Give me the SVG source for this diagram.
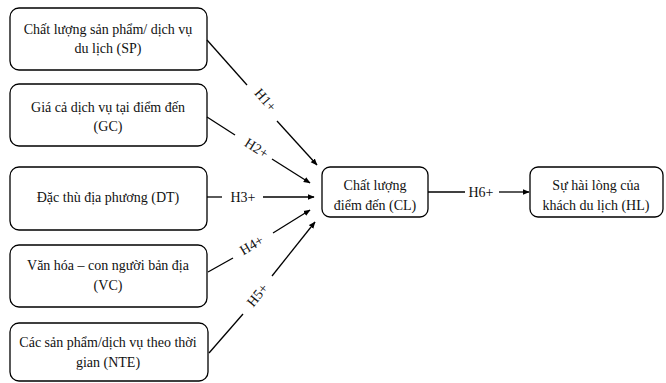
<svg xmlns="http://www.w3.org/2000/svg" width="666" height="383" viewBox="0 0 666 383">
<style>
.box{fill:#fff;stroke:#000;stroke-width:1.3}
.t{font-family:"Liberation Serif","Times New Roman",serif;font-size:14px;fill:#111;text-anchor:middle}
.ln{stroke:#000;stroke-width:1.3;fill:none}
</style>
<defs>
<marker id="ah" viewBox="0 0 10 10" refX="9" refY="5" markerWidth="7" markerHeight="7" orient="auto" markerUnits="userSpaceOnUse">
<path d="M0,1 L10,5 L0,9 z" fill="#000"/>
</marker>
</defs>
<rect width="666" height="383" fill="#fff"/>
<g id="SP"><rect class="box" x="10" y="8" width="197" height="62" rx="9"/>
<text class="t" x="108" y="34">Chất lượng sản phẩm/ dịch vụ</text><text class="t" x="108" y="53">du lịch (SP)</text></g>
<g id="GC"><rect class="box" x="10" y="84" width="197" height="62" rx="9"/>
<text class="t" x="108" y="112">Giá cả dịch vụ tại điểm đến</text><text class="t" x="108" y="131">(GC)</text></g>
<g id="DT"><rect class="box" x="10" y="167" width="197" height="63" rx="9"/>
<text class="t" x="108" y="202">Đặc thù địa phương (DT)</text></g>
<g id="VC"><rect class="box" x="10" y="245" width="197" height="62" rx="9"/>
<text class="t" x="108" y="270">Văn hóa – con người bản địa</text><text class="t" x="108" y="290">(VC)</text></g>
<g id="NTE"><rect class="box" x="10" y="323" width="198" height="58" rx="9"/>
<text class="t" x="108" y="347">Các sản phẩm/dịch vụ theo thời</text><text class="t" x="108" y="367">gian (NTE)</text></g>
<g id="CL"><rect class="box" x="322" y="167" width="106" height="50" rx="8"/>
<text class="t" x="375" y="190">Chất lượng</text><text class="t" x="375" y="210">điểm đến (CL)</text></g>
<g id="HL"><rect class="box" x="530" y="167" width="133" height="50" rx="8"/>
<text class="t" x="596" y="190">Sự hài lòng của</text><text class="t" x="596" y="210">khách du lịch (HL)</text></g>
<g id="connectors">
<line class="ln" x1="207" y1="40" x2="247" y2="85"/><line class="ln" x1="277" y1="121" x2="317" y2="165" marker-end="url(#ah)"/>
<text class="t" transform="translate(262,103) rotate(48.7)">H1+</text>
<line class="ln" x1="207" y1="117" x2="235" y2="135"/><line class="ln" x1="272" y1="159" x2="310" y2="183" marker-end="url(#ah)"/>
<text class="t" transform="translate(254,152) rotate(32.6)">H2+</text>
<line class="ln" x1="207" y1="197" x2="222" y2="197"/><line class="ln" x1="263" y1="197" x2="314" y2="197" marker-end="url(#ah)"/>
<text class="t" x="243" y="202">H3+</text>
<line class="ln" x1="208" y1="272" x2="233" y2="258"/><line class="ln" x1="273" y1="233" x2="310" y2="210" marker-end="url(#ah)"/>
<text class="t" transform="translate(254,249) rotate(-31)">H4+</text>
<line class="ln" x1="209" y1="353" x2="243" y2="314"/><line class="ln" x1="272" y1="276" x2="315" y2="222" marker-end="url(#ah)"/>
<text class="t" transform="translate(261,298) rotate(-51)">H5+</text>
<line class="ln" x1="428" y1="192" x2="465" y2="192"/><line class="ln" x1="499" y1="192" x2="529" y2="192" marker-end="url(#ah)"/>
<text class="t" x="481" y="197">H6+</text>
</g>
</svg>
